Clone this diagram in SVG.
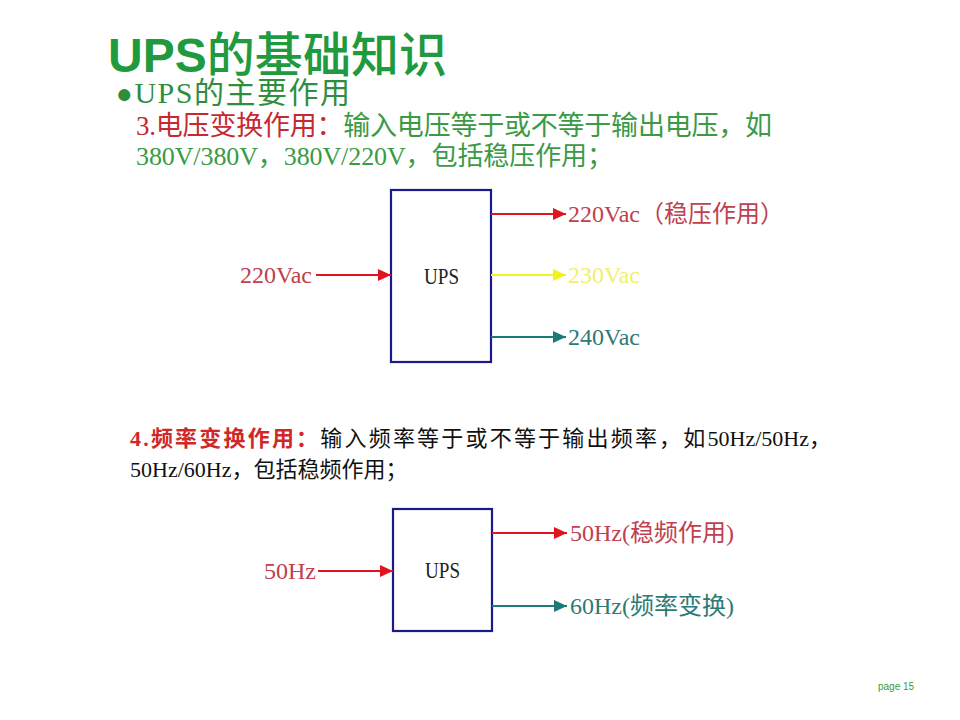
<svg xmlns="http://www.w3.org/2000/svg" width="960" height="720" viewBox="0 0 960 720">
<defs>
<style>
.t{font-family:"Liberation Serif","Noto Sans CJK SC",serif;}
.s{font-family:"Liberation Sans","Noto Sans CJK SC",sans-serif;}
.box{fill:#fff;stroke:#1a1a8c;stroke-width:2.2;}
.red{stroke:#e0141e;stroke-width:2;}
.yel{stroke:#f2f21e;stroke-width:2;}
.teal{stroke:#1e7a76;stroke-width:2;}
.lbl{font-size:24px;}
</style>
<marker id="mr" markerUnits="userSpaceOnUse" markerWidth="14" markerHeight="12" refX="13" refY="6" orient="auto"><path d="M0,0 L13,6 L0,12 z" fill="#e0141e"/></marker>
<marker id="my" markerUnits="userSpaceOnUse" markerWidth="14" markerHeight="12" refX="13" refY="6" orient="auto"><path d="M0,0 L13,6 L0,12 z" fill="#f2f21e"/></marker>
<marker id="mt" markerUnits="userSpaceOnUse" markerWidth="14" markerHeight="12" refX="13" refY="6" orient="auto"><path d="M0,0 L13,6 L0,12 z" fill="#1e7a76"/></marker>
</defs>
<rect width="960" height="720" fill="#fff"/>
<g id="title">
<text class="s" x="108" y="72" font-size="48" fill="#1f9a3e" textLength="339"><tspan font-weight="bold">UPS</tspan><tspan font-weight="500">的基础知识</tspan></text>
</g>
<g id="subtitle">
<text class="t" x="116" y="103" font-size="30" fill="#2e8e3e" textLength="234"><tspan font-size="28">●</tspan>UPS的主要作用</text>
</g>
<g id="para3">
<text class="t" x="136" y="135" font-size="27" fill="#3a9a46" textLength="636"><tspan fill="#c42a30">3.电压变换作用：</tspan>输入电压等于或不等于输出电压，如</text>
<text class="t" x="136" y="165" font-size="26" fill="#3a9a46" textLength="477">380V/380V，380V/220V，包括稳压作用；</text>
</g>
<g id="para4">
<text class="t" x="130" y="446" font-size="22" fill="#111"><tspan fill="#d02828" font-weight="bold" letter-spacing="2.2">4.频率变换作用：</tspan><tspan letter-spacing="2.2">输入频率等于或不等于输出频率，如</tspan>50Hz/50Hz，</text>
<text class="t" x="130" y="477" font-size="22" fill="#111">50Hz/60Hz，包括稳频作用；</text>
</g>
<g id="ups1">
<rect class="box" x="391" y="190" width="100" height="172"/>
<text class="t" x="424" y="284" font-size="24" fill="#222" textLength="35" lengthAdjust="spacingAndGlyphs">UPS</text>
</g>
<g id="ups2">
<rect class="box" x="393" y="509" width="99" height="122"/>
<text class="t" x="425" y="578" font-size="24" fill="#222" textLength="35" lengthAdjust="spacingAndGlyphs">UPS</text>
</g>
<g id="labels">
<text class="t lbl" x="240" y="283" fill="#c0404e">220Vac</text>
<text class="t lbl" x="568" y="222" fill="#c0404e">220Vac（稳压作用）</text>
<text class="t lbl" x="568" y="283" fill="#f0f070">230Vac</text>
<text class="t lbl" x="568" y="345" fill="#2e7a76">240Vac</text>
<text class="t lbl" x="264" y="579" fill="#c0404e">50Hz</text>
<text class="t lbl" x="570" y="541" fill="#c0404e">50Hz(稳频作用)</text>
<text class="t lbl" x="570" y="614" fill="#2e7a76">60Hz(频率变换)</text>
</g>
<g id="connectors">
<line class="red" x1="316" y1="275" x2="391" y2="275" marker-end="url(#mr)"/>
<line class="red" x1="491" y1="214" x2="566" y2="214" marker-end="url(#mr)"/>
<line class="yel" x1="491" y1="275" x2="566" y2="275" marker-end="url(#my)"/>
<line class="teal" x1="491" y1="337" x2="566" y2="337" marker-end="url(#mt)"/>
<line class="red" x1="318" y1="571" x2="393" y2="571" marker-end="url(#mr)"/>
<line class="red" x1="492" y1="533" x2="567" y2="533" marker-end="url(#mr)"/>
<line class="teal" x1="492" y1="606" x2="567" y2="606" marker-end="url(#mt)"/>
</g>
<g id="footer">
<text x="878" y="690" font-family="Liberation Sans, sans-serif" font-size="10" fill="#3a9a46">page 15</text>
</g>
</svg>
